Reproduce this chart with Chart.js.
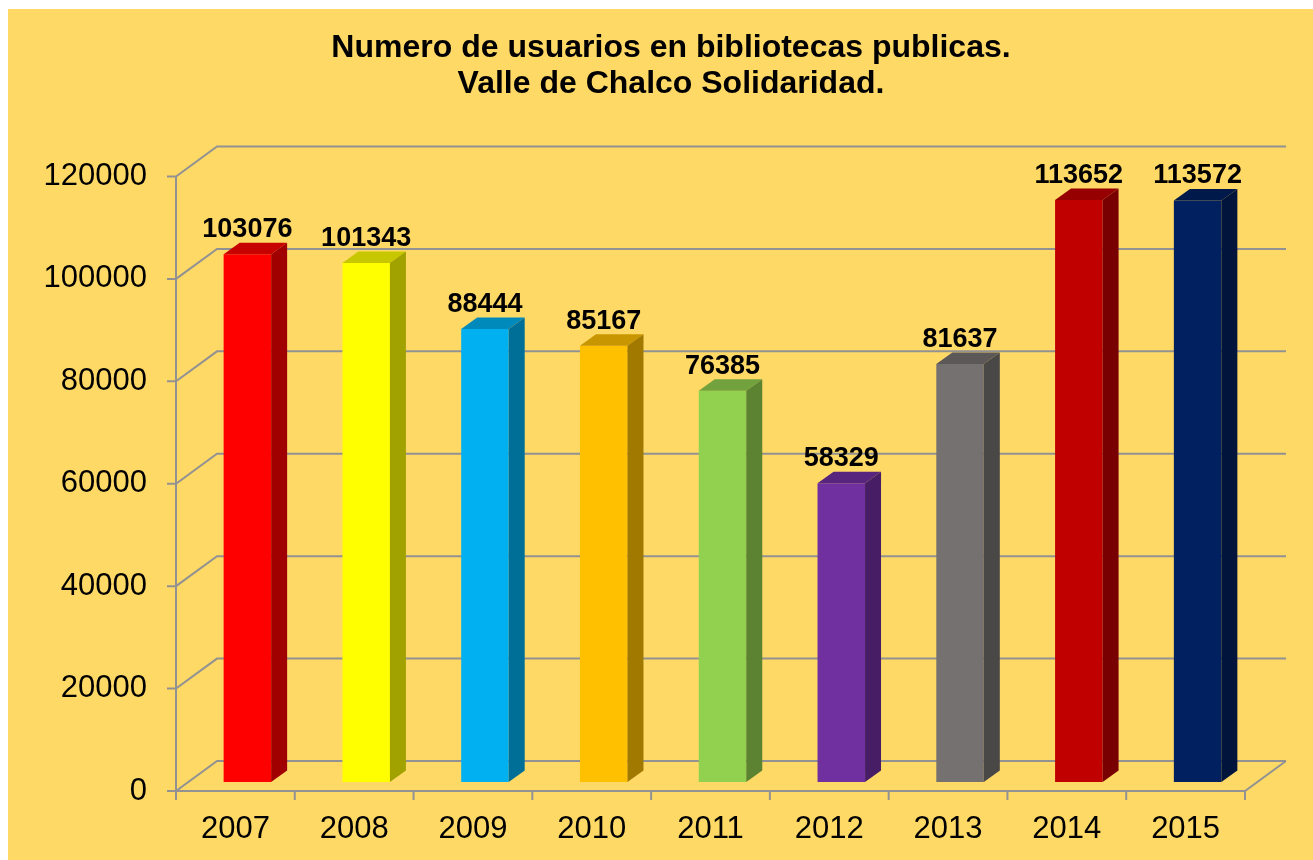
<!DOCTYPE html>
<html>
<head>
<meta charset="utf-8">
<script src="https://cdn.jsdelivr.net/npm/chart.js@4"></script>
<style>
  html, body { margin: 0; padding: 0; background: #fff; }
  #wrap { width: 1313px; height: 860px; }
</style>
</head>
<body>
<div id="wrap"><canvas id="usuariosChart"></canvas></div>
<script>
const years = ["2007", "2008", "2009", "2010", "2011", "2012", "2013", "2014", "2015"];
const usuarios = [103076, 101343, 88444, 85167, 76385, 58329, 81637, 113652, 113572];
const barColors = ["#FF0000", "#FFFF00", "#00B0F0", "#FFC000", "#92D050", "#7030A0", "#767171", "#C00000", "#002060"];
const titleLines = ["Numero de usuarios en bibliotecas publicas.", "Valle de Chalco Solidaridad."];

const FONT = "'Liberation Sans', Arial, sans-serif";
const gridColor = "#929292";
// depth offsets relative to the bar plane
const frontOff = { x: -12, y: 9 };
const backOff = { x: 29, y: -21 };
const barDepth = { x: 16, y: -11.5 };

function shade(hex, f) {
  const n = parseInt(hex.slice(1), 16);
  const r = Math.round(((n >> 16) & 255) * f);
  const g = Math.round(((n >> 8) & 255) * f);
  const b = Math.round((n & 255) * f);
  return "rgb(" + r + "," + g + "," + b + ")";
}

const backgroundPlugin = {
  id: "bg",
  beforeDraw(chart) {
    const ctx = chart.ctx;
    ctx.save();
    ctx.fillStyle = "#ffffff";
    ctx.fillRect(0, 0, chart.width, chart.height);
    ctx.fillStyle = "#FFD966";
    ctx.fillRect(8, 9, chart.width - 8, chart.height - 9);
    ctx.restore();
  }
};

// back wall, side wall and floor of the 3D frame
const framePlugin = {
  id: "frame3d",
  beforeDatasetsDraw(chart) {
    const ctx = chart.ctx;
    const y = chart.scales.y;
    const area = chart.chartArea;
    const fl = area.left + frontOff.x, fr = area.right + frontOff.x;
    const bl = area.left + backOff.x, br = area.right + backOff.x;
    ctx.save();
    ctx.strokeStyle = gridColor;
    ctx.lineWidth = 2;
    y.ticks.forEach(t => {
      const py = y.getPixelForValue(t.value);
      ctx.beginPath();
      ctx.moveTo(fl - 9, py + frontOff.y);
      ctx.lineTo(fl, py + frontOff.y);
      ctx.lineTo(bl, py + backOff.y);
      ctx.lineTo(br, py + backOff.y);
      ctx.stroke();
    });
    const y0 = y.getPixelForValue(0);
    const yTop = y.getPixelForValue(y.max);
    ctx.beginPath();
    ctx.moveTo(fl, yTop + frontOff.y);
    ctx.lineTo(fl, y0 + frontOff.y);
    ctx.lineTo(fr, y0 + frontOff.y);
    ctx.lineTo(br, y0 + backOff.y);
    ctx.stroke();
    // category ticks under the front floor edge
    const step = (area.right - area.left) / years.length;
    for (let i = 0; i <= years.length; i++) {
      const px = area.left + i * step + frontOff.x;
      ctx.beginPath();
      ctx.moveTo(px, y0 + frontOff.y);
      ctx.lineTo(px, y0 + frontOff.y + 9);
      ctx.stroke();
    }
    ctx.restore();
  }
};

// top and side faces of each bar, plus value labels
const barFacesPlugin = {
  id: "barFaces",
  afterDatasetsDraw(chart) {
    const ctx = chart.ctx;
    const meta = chart.getDatasetMeta(0);
    ctx.save();
    meta.data.forEach((bar, i) => {
      const p = bar.getProps(["x", "y", "base", "width"], true);
      const xl = p.x - p.width / 2, xr = p.x + p.width / 2;
      const c = barColors[i];
      ctx.fillStyle = shade(c, 0.78);
      ctx.beginPath();
      ctx.moveTo(xl, p.y);
      ctx.lineTo(xl + barDepth.x, p.y + barDepth.y);
      ctx.lineTo(xr + barDepth.x, p.y + barDepth.y);
      ctx.lineTo(xr, p.y);
      ctx.closePath();
      ctx.fill();
      ctx.fillStyle = shade(c, 0.63);
      ctx.beginPath();
      ctx.moveTo(xr, p.y);
      ctx.lineTo(xr + barDepth.x, p.y + barDepth.y);
      ctx.lineTo(xr + barDepth.x, p.base + barDepth.y);
      ctx.lineTo(xr, p.base);
      ctx.closePath();
      ctx.fill();

      ctx.fillStyle = "#000";
      ctx.font = "bold 27px " + FONT;
      ctx.textAlign = "center";
      ctx.textBaseline = "alphabetic";
      ctx.fillText(String(usuarios[i]), p.x, p.y - 17);
    });
    ctx.restore();
  }
};

new Chart(document.getElementById("usuariosChart"), {
  type: "bar",
  data: {
    labels: years,
    datasets: [{
      label: "Usuarios",
      data: usuarios,
      backgroundColor: barColors,
      borderWidth: 0,
      categoryPercentage: 1,
      barPercentage: 0.4
    }]
  },
  options: {
    responsive: true,
    maintainAspectRatio: false,
    animation: false,
    layout: { padding: { left: 29, right: 0, top: 0, bottom: 0 } },
    plugins: {
      legend: { display: false },
      tooltip: { enabled: false },
      title: {
        display: true,
        text: titleLines,
        color: "#000",
        font: { family: FONT, size: 32, weight: "bold", lineHeight: 1.125 },
        padding: { top: 30, bottom: 65.5 }
      }
    },
    scales: {
      x: {
        grid: { display: false, drawTicks: false },
        border: { display: false },
        ticks: {
          color: "#000",
          font: { family: FONT, size: 31 },
          padding: 29,
          labelOffset: -12,
          maxRotation: 0
        },
        afterFit(s) { s.height = 78; }
      },
      y: {
        min: 0,
        max: 120000,
        grid: { display: false, drawTicks: false },
        border: { display: false },
        ticks: {
          stepSize: 20000,
          color: "#000",
          font: { family: FONT, size: 31 },
          padding: 41,
          labelOffset: 9,
          callback: v => String(v)
        },
        afterFit(s) { s.width = 159; }
      },
      yRight: {
        position: "right",
        min: 0,
        max: 120000,
        grid: { display: false, drawTicks: false },
        border: { display: false },
        ticks: { display: false },
        afterFit(s) { s.width = 56; }
      }
    }
  },
  plugins: [backgroundPlugin, framePlugin, barFacesPlugin]
});
</script>
</body>
</html>
